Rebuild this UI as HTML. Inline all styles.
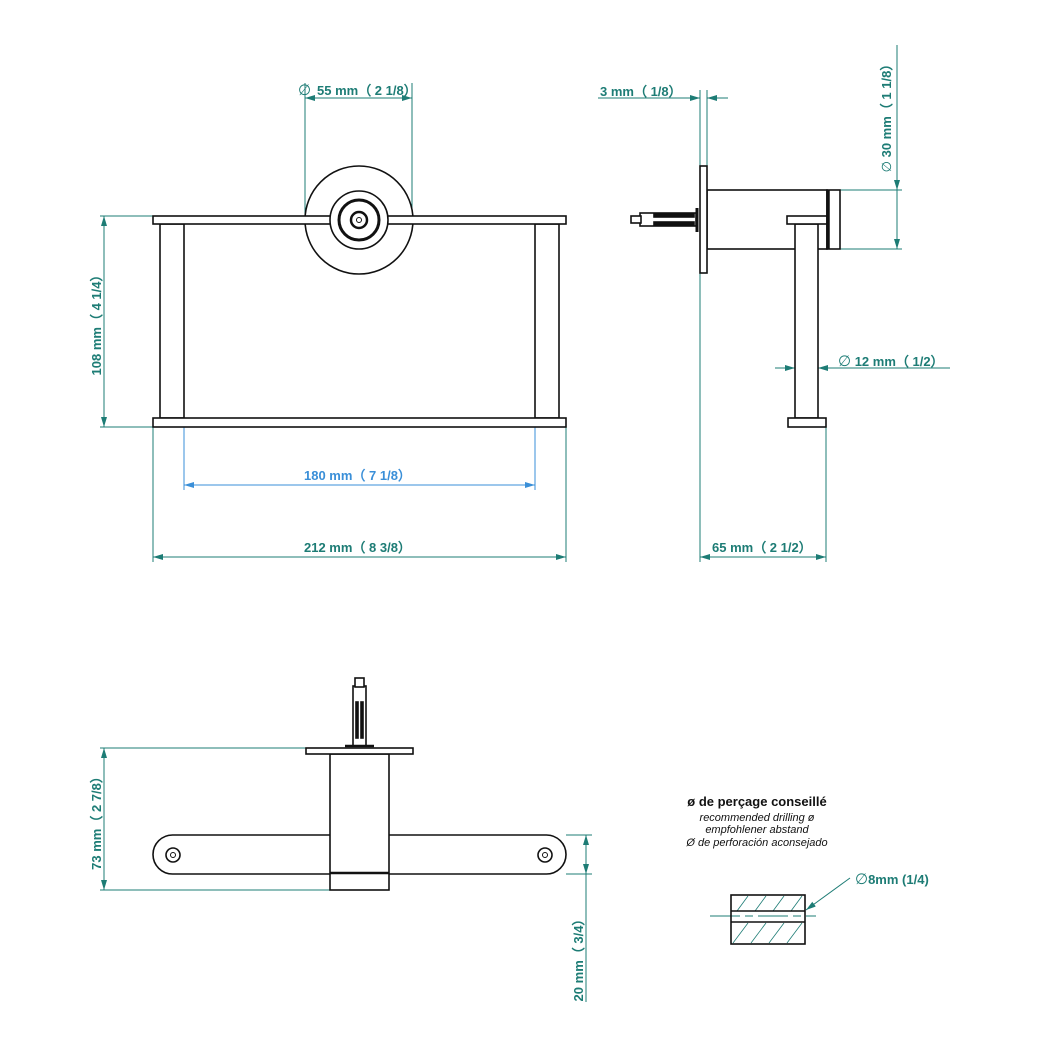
<!DOCTYPE html>
<html><head><meta charset="utf-8"><style>body{margin:0;background:#fff}svg{display:block}</style></head><body>
<svg width="1045" height="1045" viewBox="0 0 1045 1045" xmlns="http://www.w3.org/2000/svg" font-family="Liberation Sans, sans-serif">
<defs>
<marker id="a" viewBox="0 0 10 6" refX="10" refY="3" markerWidth="10" markerHeight="6" orient="auto-start-reverse" markerUnits="userSpaceOnUse"><path d="M0,0L10,3L0,6z" fill="#1d7c75"/></marker>
<marker id="b" viewBox="0 0 10 6" refX="10" refY="3" markerWidth="10" markerHeight="6" orient="auto-start-reverse" markerUnits="userSpaceOnUse"><path d="M0,0L10,3L0,6z" fill="#3a8fd8"/></marker>
</defs>
<g stroke="#1d7c75" stroke-width="1" fill="none">
<line x1="305" y1="83" x2="305" y2="216"/><line x1="412" y1="83" x2="412" y2="216"/>
<line x1="305" y1="98" x2="412" y2="98" marker-start="url(#a)" marker-end="url(#a)"/>
<line x1="100" y1="216" x2="153" y2="216"/><line x1="100" y1="427" x2="153" y2="427"/>
<line x1="104" y1="216" x2="104" y2="427" marker-start="url(#a)" marker-end="url(#a)"/>
<line x1="153" y1="427" x2="153" y2="562"/><line x1="566" y1="427" x2="566" y2="562"/>
<line x1="153" y1="557" x2="566" y2="557" marker-start="url(#a)" marker-end="url(#a)"/>
<line x1="700" y1="90" x2="700" y2="562"/><line x1="707" y1="90" x2="707" y2="166"/>
<line x1="598" y1="98" x2="700" y2="98" marker-end="url(#a)"/><line x1="728" y1="98" x2="707" y2="98" marker-end="url(#a)"/>
<line x1="840" y1="190" x2="902" y2="190"/><line x1="827" y1="249" x2="902" y2="249"/>
<line x1="897" y1="45" x2="897" y2="190" marker-end="url(#a)"/><line x1="897" y1="190" x2="897" y2="249" marker-end="url(#a)"/>
<line x1="775" y1="368" x2="795" y2="368" marker-end="url(#a)"/><line x1="950" y1="368" x2="818" y2="368" marker-end="url(#a)"/>
<line x1="826" y1="427" x2="826" y2="562"/>
<line x1="700" y1="557" x2="826" y2="557" marker-start="url(#a)" marker-end="url(#a)"/>
<line x1="100" y1="748" x2="306" y2="748"/><line x1="100" y1="890" x2="330" y2="890"/>
<line x1="104" y1="748" x2="104" y2="890" marker-start="url(#a)" marker-end="url(#a)"/>
<line x1="566" y1="835" x2="592" y2="835"/><line x1="566" y1="874" x2="592" y2="874"/>
<line x1="586" y1="835" x2="586" y2="855" marker-start="url(#a)"/><line x1="586" y1="855" x2="586" y2="874" marker-end="url(#a)"/>
<line x1="586" y1="874" x2="586" y2="1002"/>
<line x1="710" y1="916" x2="816" y2="916" stroke-dasharray="30,5,8,5"/>
<line x1="850" y1="878" x2="806" y2="910" marker-end="url(#a)"/>
<g stroke-width="0.8"><line x1="737" y1="911" x2="748" y2="896"/><line x1="755" y1="911" x2="766" y2="896"/><line x1="773" y1="911" x2="784" y2="896"/><line x1="791" y1="911" x2="802" y2="896"/>
<line x1="733" y1="943" x2="748" y2="923"/><line x1="751" y1="943" x2="766" y2="923"/><line x1="769" y1="943" x2="784" y2="923"/><line x1="787" y1="943" x2="802" y2="923"/></g>
</g>
<line x1="184" y1="427" x2="184" y2="490" stroke="#3a8fd8"/><line x1="535" y1="427" x2="535" y2="490" stroke="#3a8fd8"/>
<line x1="184" y1="485" x2="535" y2="485" stroke="#3a8fd8" marker-start="url(#b)" marker-end="url(#b)"/>

<g stroke="#111" stroke-width="1.6" fill="#fff">
<rect x="160" y="224" width="24" height="194"/><rect x="535" y="224" width="24" height="194"/>
<circle cx="359" cy="220" r="54"/>
<rect x="153" y="216" width="413" height="8"/><rect x="153" y="418" width="413" height="9"/>
<circle cx="359" cy="220" r="29"/>
<circle cx="359" cy="220" r="20" stroke-width="3"/><circle cx="359" cy="220" r="8" stroke-width="2.5"/><circle cx="359" cy="220" r="2.5" stroke-width="1"/>
<rect x="707" y="190" width="120" height="59"/>
<rect x="795" y="224" width="23" height="194"/>
<rect x="787" y="216" width="40" height="8"/><rect x="788" y="418" width="38" height="9"/>
<rect x="827" y="190" width="13" height="59"/><line x1="828" y1="190" x2="828" y2="249" stroke-width="3.5"/>
<rect x="700" y="166" width="7" height="107"/>
<rect x="640" y="213" width="56" height="13"/><rect x="631" y="216" width="10" height="7"/>
<rect x="654" y="214" width="40" height="3" fill="#111"/><rect x="654" y="222" width="40" height="3" fill="#111"/>
<line x1="697" y1="208" x2="697" y2="232" stroke-width="3"/>
<rect x="153" y="835" width="413" height="39" rx="19.5"/>
<circle cx="173" cy="855" r="7"/><circle cx="173" cy="855" r="2.5" stroke-width="1"/>
<circle cx="545" cy="855" r="7"/><circle cx="545" cy="855" r="2.5" stroke-width="1"/>
<rect x="330" y="754" width="59" height="136"/><line x1="330" y1="873" x2="389" y2="873" stroke-width="2.5"/>
<rect x="306" y="748" width="107" height="6"/>
<rect x="353" y="686" width="13" height="60"/><rect x="355" y="678" width="9" height="9"/>
<rect x="356" y="702" width="2" height="36" fill="#111"/><rect x="361" y="702" width="2" height="36" fill="#111"/>
<line x1="345" y1="746" x2="374" y2="746" stroke-width="2.5"/>
<rect x="731" y="895" width="74" height="49" fill="none"/>
<line x1="731" y1="911" x2="805" y2="911"/><line x1="731" y1="922" x2="805" y2="922"/>
</g>

<g fill="#1d7c75" font-weight="bold" font-size="13">
<text x="298" y="95" font-weight="normal" font-size="15">∅</text>
<text x="317" y="95">55 mm（ 2 1/8）</text>
<text x="600" y="96">3 mm（ 1/8）</text>
<text x="304" y="480" fill="#3a8fd8">180 mm（ 7 1/8）</text>
<text x="304" y="552">212 mm（ 8 3/8）</text>
<text x="712" y="552">65 mm（ 2 1/2）</text>
<text x="838" y="366"><tspan font-weight="normal" font-size="15">∅</tspan> 12 mm（ 1/2）</text>
<text transform="translate(101,322) rotate(-90)" text-anchor="middle">108 mm（ 4 1/4）</text>
<text transform="translate(891,115) rotate(-90)" text-anchor="middle"><tspan font-weight="normal">∅</tspan> 30 mm（ 1 1/8）</text>
<text transform="translate(101,820) rotate(-90)" text-anchor="middle">73 mm（ 2 7/8）</text>
<text transform="translate(583,957) rotate(-90)" text-anchor="middle">20 mm（ 3/4）</text>
<text x="855" y="884"><tspan font-weight="normal" font-size="15">∅</tspan>8mm (1/4)</text>
</g>
<g fill="#111" text-anchor="middle">
<text x="757" y="806" font-weight="bold" font-size="13">ø de perçage conseillé</text>
<g font-style="italic" font-size="11"><text x="757" y="821">recommended drilling ø</text><text x="757" y="833">empfohlener abstand</text><text x="757" y="846">Ø de perforación aconsejado</text></g>
</g>
</svg>
</body></html>
